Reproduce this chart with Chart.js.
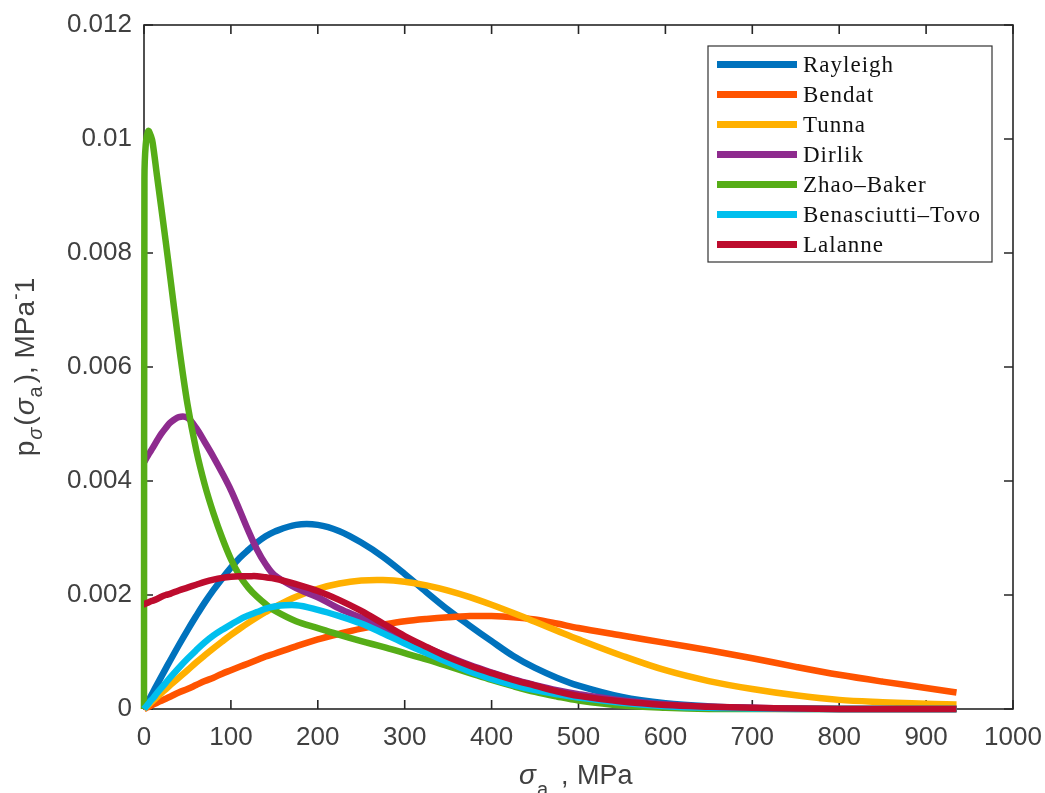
<!DOCTYPE html>
<html>
<head>
<meta charset="utf-8">
<script src="https://cdn.jsdelivr.net/npm/chart.js@4.4.0/dist/chart.umd.min.js"></script>
<style>
  html, body { margin: 0; padding: 0; background: #ffffff; }
  #wrap { width: 1045px; height: 793px; }
</style>
</head>
<body>
<div id="wrap"><canvas id="c" width="1045" height="793"></canvas></div>
<script>
// ---- data ----
const sigma = [0,0.5,2,5,8,10,15,20,25,30,40,50,60,70,80,90,100,110,120,130,140,150,175,200,225,250,275,300,325,350,375,400,425,450,475,500,550,600,650,700,750,800,850,900,935];

const rayleigh = [0,0.000014,0.000057,0.000143,0.000229,0.000286,0.000428,0.000568,0.000709,0.000847,0.001118,0.00138,0.00163,0.00187,0.00209,0.00229,0.00248,0.00265,0.00279,0.00292,0.00303,0.00311,0.00323,0.00323,0.00312,0.00292,0.00267,0.00237,0.00205,0.00174,0.00146,0.00119,0.00093,0.00072,0.00055,0.00041,0.00021,0.00010,0.000045,0.000018,0.000007,0.000002,0,0,0];

const bendat = [0,0.000004,0.000014,0.000036,0.000058,0.000072,0.00011,0.000145,0.00018,0.000215,0.00029,0.00035,0.00042,0.00049,0.00055,0.00062,0.00068,0.00074,0.0008,0.00086,0.00092,0.00097,0.0011,0.00122,0.00132,0.00141,0.00148,0.00154,0.00158,0.00161,0.00163,0.00163,0.00161,0.00157,0.0015,0.00142,0.00129,0.00116,0.00103,0.00089,0.00074,0.0006,0.00048,0.00037,0.00029];

const tunna = [0,0.000007,0.000028,0.00007,0.000111,0.000139,0.000209,0.000278,0.000347,0.000415,0.000549,0.000679,0.000815,0.000942,0.001065,0.001184,0.0013,0.001408,0.001511,0.001609,0.001701,0.001786,0.001969,0.002108,0.002202,0.002253,0.002262,0.002233,0.002169,0.002077,0.001962,0.001828,0.001683,0.00153,0.001375,0.001221,0.000935,0.00068,0.00049,0.00035,0.00024,0.00016,0.00012,0.00009,0.00008];

const dirlik = [0.00433,0.00434,0.00438,0.00446,0.00453,0.00458,0.00471,0.00483,0.00493,0.00502,0.00512,0.00511,0.00493,0.00468,0.00442,0.00414,0.00384,0.00349,0.00313,0.0028,0.00254,0.00235,0.00212,0.00196,0.00176,0.0016,0.00143,0.00125,0.00108,0.00092,0.00077,0.00064,0.00052,0.00042,0.00033,0.00026,0.00015,0.00008,0.00004,0.00002,0.00001,0,0,0,0];

const zhaoBaker = [0,0.0093,0.0099,0.01014,0.01005,0.00993,0.00935,0.00878,0.0082,0.0076,0.0064,0.00535,0.00455,0.00393,0.00343,0.003,0.00263,0.00234,0.00213,0.00197,0.00184,0.00173,0.00154,0.00142,0.0013,0.00119,0.00109,0.00098,0.00087,0.00075,0.00063,0.00051,0.0004,0.0003,0.00022,0.00015,0.00006,0.00002,0,0,0,0,0,0,0];

const benasciuttiTovo = [0,0.00001,0.000037,0.00009,0.00015,0.00018,0.00028,0.00037,0.00046,0.00055,0.00072,0.00088,0.00103,0.00117,0.00129,0.00139,0.00148,0.00157,0.00164,0.0017,0.00176,0.0018,0.00182,0.00174,0.00163,0.0015,0.00133,0.00115,0.00098,0.00082,0.00066,0.00053,0.00042,0.00033,0.00026,0.0002,0.00011,0.00005,0.00002,0.00001,0,0,0,0,0];

const lalanne = [0.00184,0.00184,0.00185,0.00187,0.00189,0.0019,0.00193,0.00197,0.002,0.00202,0.00208,0.00213,0.00218,0.00223,0.00227,0.0023,0.00232,0.00233,0.00233,0.00233,0.00231,0.00229,0.00219,0.00207,0.00191,0.00172,0.0015,0.00128,0.00109,0.00091,0.00076,0.00063,0.00051,0.00041,0.00031,0.00023,0.00013,0.00007,0.00004,0.00002,0.00001,0,0,0,0];

const seriesNames = ["Rayleigh","Bendat","Tunna","Dirlik","Zhao\u2013Baker","Benasciutti\u2013Tovo","Lalanne"];
const seriesValues = [rayleigh, bendat, tunna, dirlik, zhaoBaker, benasciuttiTovo, lalanne];
const seriesColors = ["#0072BD","#FF5300","#FFB000","#8E2B8E","#56AD17","#00BFEE","#BD0C2E"];

const xTickValues = [0,100,200,300,400,500,600,700,800,900,1000];
const xTickLabels = ["0","100","200","300","400","500","600","700","800","900","1000"];
const yTickValues = [0,0.002,0.004,0.006,0.008,0.010,0.012];
const yTickLabels = ["0","0.002","0.004","0.006","0.008","0.01","0.012"];

// ---- chart ----
const fam = "'Liberation Sans', Arial, sans-serif";
const tickFont = { family: fam, size: 26 };
const tickColor = "#404040";
const axisColor = "#262626";

const datasets = seriesNames.map((name, k) => ({
  label: name,
  data: sigma.map((s, i) => ({ x: s, y: seriesValues[k][i] })),
  borderColor: seriesColors[k],
  backgroundColor: seriesColors[k],
  borderWidth: 6.5,
  pointRadius: 0,
  fill: false,
  tension: 0.35,
  borderCapStyle: 'butt',
  borderJoinStyle: 'round',
  order: seriesNames.length - k,
  clip: 6
}));

const axesPlugin = {
  id: 'matlabAxes',
  beforeDatasetsDraw(chart) {
    const { ctx, chartArea: a, scales } = chart;
    ctx.save();
    ctx.strokeStyle = axisColor;
    ctx.lineWidth = 1.6;
    ctx.strokeRect(a.left, a.top, a.right - a.left, a.bottom - a.top);
    const tl = 9;
    ctx.beginPath();
    xTickValues.forEach(v => {
      const px = scales.x.getPixelForValue(v);
      ctx.moveTo(px, a.bottom); ctx.lineTo(px, a.bottom - tl);
      ctx.moveTo(px, a.top); ctx.lineTo(px, a.top + tl);
    });
    yTickValues.forEach(v => {
      const py = scales.y.getPixelForValue(v);
      ctx.moveTo(a.left, py); ctx.lineTo(a.left + tl, py);
      ctx.moveTo(a.right, py); ctx.lineTo(a.right - tl, py);
    });
    ctx.stroke();
    ctx.restore();
  },
  afterDraw(chart) {
    const { ctx, chartArea: a } = chart;
    ctx.save();
    // ---- legend ----
    const bw = 284, bh = 216;
    const bx = a.right - 21 - bw, by = a.top + 21;
    ctx.fillStyle = '#ffffff';
    ctx.fillRect(bx, by, bw, bh);
    ctx.strokeStyle = '#333333';
    ctx.lineWidth = 1.2;
    ctx.strokeRect(bx, by, bw, bh);
    ctx.font = "23px 'Liberation Serif', 'Times New Roman', serif";
    try { ctx.letterSpacing = '1px'; } catch (e) {}
    ctx.textBaseline = 'alphabetic';
    ctx.textAlign = 'left';
    chart.data.datasets.forEach((ds, i) => {
      const cy = by + 18.5 + i * 30;
      ctx.strokeStyle = ds.borderColor;
      ctx.lineWidth = 7;
      ctx.beginPath();
      ctx.moveTo(bx + 9, cy); ctx.lineTo(bx + 89, cy);
      ctx.stroke();
      ctx.fillStyle = '#111111';
      ctx.fillText(ds.label, bx + 95, cy + 7);
    });
    try { ctx.letterSpacing = '0px'; } catch (e) {}

    // ---- x axis title: sigma_a , MPa ----
    ctx.fillStyle = tickColor;
    const base = 784;
    ctx.font = "italic 28px " + fam; ctx.fillText('\u03C3', 519, base);
    ctx.font = "20px " + fam; ctx.fillText('a', 537, base + 12);
    ctx.font = "27px " + fam; ctx.fillText(',', 561, base);
    ctx.fillText('MPa', 577, base);

    // ---- y axis title: p_sigma(sigma_a), MPa^-1 ----
    ctx.translate(34, (a.top + a.bottom) / 2);
    ctx.rotate(-Math.PI / 2);
    const pieces = [
      { t: 'p', f: "28px " + fam, dy: 0, gap: 1 },
      { t: '\u03C3', f: "italic 20px " + fam, dy: 8, gap: 2 },
      { t: '(', f: "28px " + fam, dy: 0, gap: 1 },
      { t: '\u03C3', f: "italic 28px " + fam, dy: 0, gap: 1 },
      { t: 'a', f: "20px " + fam, dy: 8, gap: 3 },
      { t: '), MPa', f: "28px " + fam, dy: 0, gap: 1 },
      { t: '-', f: "20px " + fam, dy: -12, gap: 0 },
      { t: '1', f: "28px " + fam, dy: 0, gap: 0 }
    ];
    let total = 0;
    pieces.forEach(p => { ctx.font = p.f; p.w = ctx.measureText(p.t).width; total += p.w + p.gap; });
    let xx = -total / 2;
    pieces.forEach(p => { ctx.font = p.f; ctx.fillText(p.t, xx, p.dy); xx += p.w + p.gap; });
    ctx.restore();
  }
};

new Chart(document.getElementById('c'), {
  type: 'line',
  data: { datasets },
  plugins: [axesPlugin],
  options: {
    responsive: false,
    devicePixelRatio: 1,
    animation: false,
    events: [],
    layout: { padding: { top: 25, right: 32, left: 0, bottom: 0 } },
    plugins: { legend: { display: false }, tooltip: { enabled: false }, title: { display: false } },
    scales: {
      x: {
        type: 'linear', min: 0, max: 1000,
        grid: { display: false, drawTicks: false },
        border: { display: false },
        afterBuildTicks: s => { s.ticks = xTickValues.map(v => ({ value: v })); },
        afterFit: s => { s.height = 84; s.paddingLeft = 0; s.paddingRight = 0; },
        ticks: {
          font: tickFont, color: tickColor, padding: 13, maxRotation: 0, autoSkip: false,
          callback: (v) => { const i = xTickValues.indexOf(v); return i >= 0 ? xTickLabels[i] : ''; }
        }
      },
      y: {
        type: 'linear', min: 0, max: 0.012,
        grid: { display: false, drawTicks: false },
        border: { display: false },
        afterBuildTicks: s => { s.ticks = yTickValues.map(v => ({ value: v })); },
        afterFit: s => { s.width = 144; s.paddingTop = 0; s.paddingBottom = 0; },
        ticks: {
          font: tickFont, color: tickColor, padding: 12, autoSkip: false,
          callback: (v) => { const i = yTickValues.findIndex(t => Math.abs(t - v) < 1e-9); return i >= 0 ? yTickLabels[i] : ''; }
        }
      }
    }
  }
});
</script>
</body>
</html>
